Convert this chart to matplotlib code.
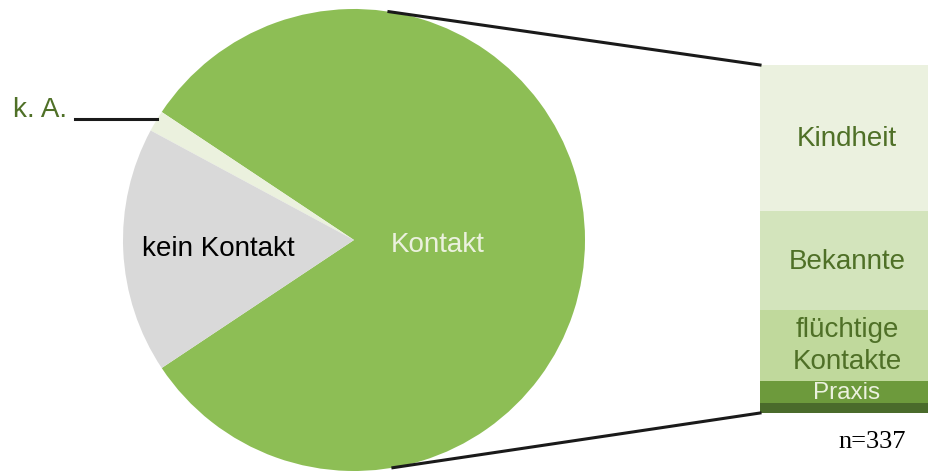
import matplotlib
matplotlib.use('Agg')
import matplotlib.pyplot as plt
import numpy as np

# pie: Kontakt / k. A. / kein Kontakt (n=337)
pie_labels = ['Kontakt', 'k. A.', 'kein Kontakt']
pie_values = [274, 5, 58]
pie_colors = ['#8dbe55', '#ebf1de', '#d9d9d9']

# breakdown of "Kontakt" (bottom to top), share in %
bar_labels = ['', 'Praxis', 'flüchtige\nKontakte', 'Bekannte', 'Kindheit']
bar_values = [2.9, 6.3, 20.4, 28.4, 42.0]
bar_colors = ['#4a6b2b', '#6d9a3c', '#c0d99c', '#d3e4bc', '#ebf1df']
bar_text_colors = ['#ebf1de', '#ebf1de', '#4f7027', '#4f7027', '#4f7027']

plt.rcParams['font.family'] = ['Liberation Sans', 'DejaVu Sans']

fig = plt.figure(figsize=(9.29, 4.71), dpi=100)
ax = fig.add_axes([0, 0, 1, 1])

cx, cy, r = 354, 231, 231
total = sum(pie_values)
start = -180 * pie_values[0] / total
ax.pie(pie_values, colors=pie_colors, startangle=start, counterclock=True,
       center=(cx, cy), radius=r, frame=True,
       wedgeprops=dict(linewidth=0))

# pie labels
ax.text(438, 226, 'Kontakt', color='#ebf1de', fontsize=20, ha='center', va='center')
ax.text(218, 222, 'kein Kontakt', color='black', fontsize=20, ha='center', va='center')
ax.text(40, 361, 'k. A.', color='#4f7027', fontsize=20, ha='center', va='center')
ax.plot([75, 157], [352, 352], color='#1a1a1a', lw=2.2)

# stacked bar
bx0, bx1 = 760, 934
by0, by1 = 58, 406
scale = (by1 - by0) / sum(bar_values)
bottom = by0
for lab, v, c, tc in zip(bar_labels, bar_values, bar_colors, bar_text_colors):
    h = v * scale
    ax.bar((bx0 + bx1) / 2, h, width=bx1 - bx0, bottom=bottom, color=c, linewidth=0)
    if lab:
        fs = 17.5 if lab == 'Praxis' else 20
        ax.text(847, bottom + h / 2 - 1, lab, color=tc, fontsize=fs,
                ha='center', va='center', linespacing=1.3)
    bottom += h

# connector lines
a_top = np.radians(81.3)
a_bot = np.radians(-80.3)
ax.plot([cx + r * np.cos(a_top), bx0], [cy + r * np.sin(a_top), by1], color='#1a1a1a', lw=2.2)
ax.plot([cx + r * np.cos(a_bot), bx0], [cy + r * np.sin(a_bot), by0], color='#1a1a1a', lw=2.2)

ax.text(872, 29, 'n=337', fontsize=19, family='Liberation Serif', ha='center', va='center')

ax.set_xlim(0, 929)
ax.set_ylim(0, 471)
ax.set_aspect('auto')
ax.axis('off')

fig.savefig('out.png', dpi=100)
